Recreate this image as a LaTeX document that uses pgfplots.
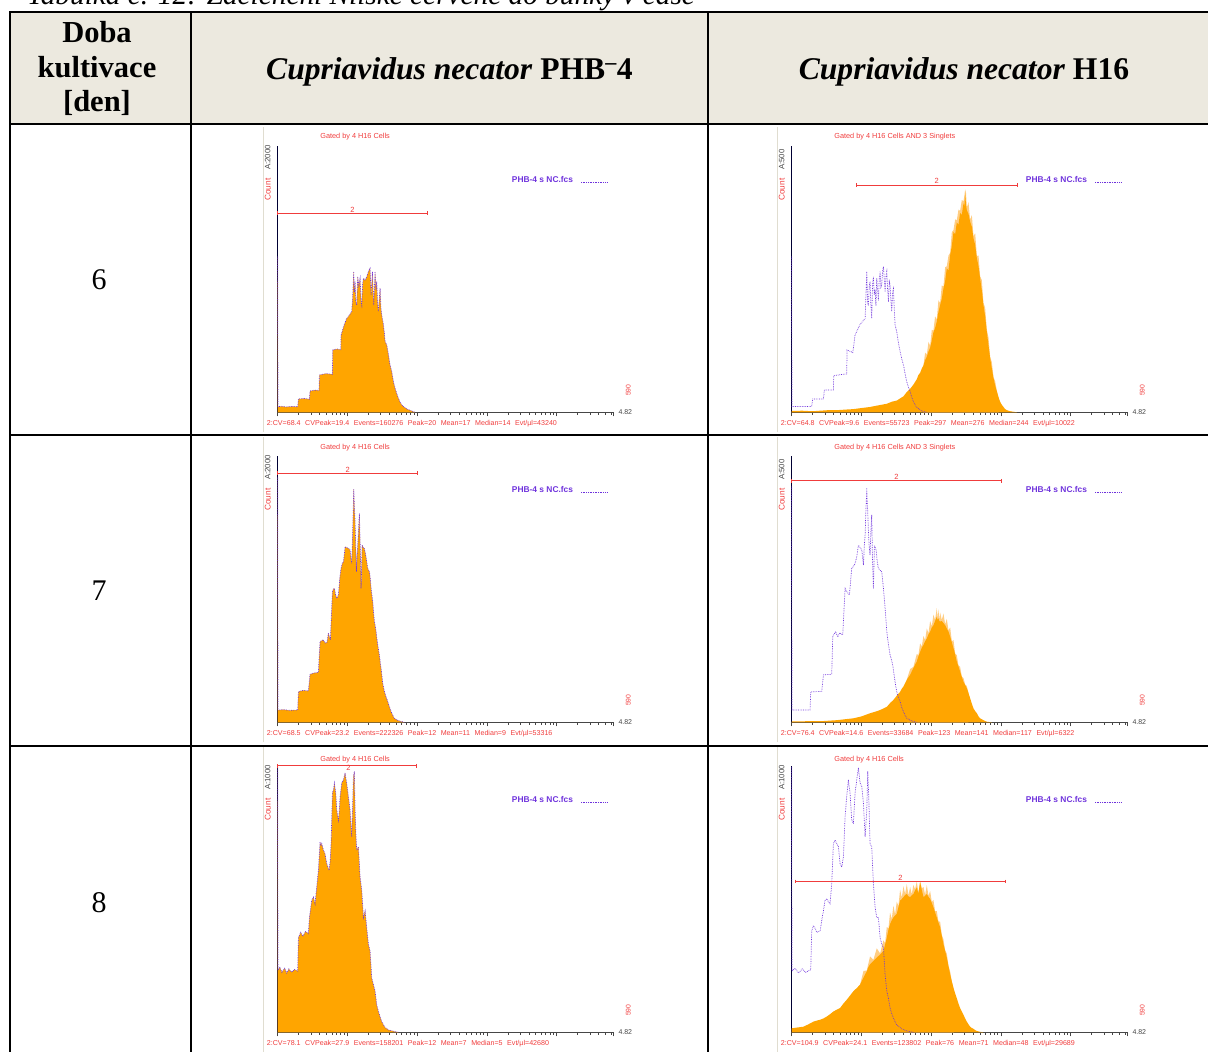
\documentclass[border=0pt]{standalone}
\usepackage{pgfplots}
\pgfplotsset{compat=1.18}
\usepackage{pgfplotstable}
\usepackage{fontspec}
\setmainfont{Liberation Serif}
\newfontfamily\lab{Liberation Sans}
\newfontfamily\labr{Liberation Sans}

\definecolor{hdrbg}{RGB}{236,233,223}
\definecolor{histo}{RGB}{255,165,0}
\definecolor{histopale}{RGB}{255,205,130}
\definecolor{ovl}{RGB}{110,50,220}
\definecolor{fcsred}{RGB}{240,60,60}
\definecolor{fcsgray}{RGB}{70,70,70}
\definecolor{imgedge}{RGB}{224,221,208}

% ---------- histogram data: x in decades of the log channel axis, y in counts
% day 6, PHB-4 (sample and overlay coincide)
\pgfplotstableread{
d c
0 1168
0.004 42
0.06 45
0.12 40
0.2 44
0.287 42
0.297 100
0.38 104
0.455 98
0.464 160
0.53 166
0.593 165
0.598 280
0.69 290
0.785 285
0.79 468
0.85 475
0.905 470
0.909 580
0.95 650
0.990 705
1.014 718
1.062 755
1.075 860
1.091 1055
1.100 900
1.110 980
1.122 820
1.134 805
1.148 1018
1.165 950
1.182 1005
1.195 840
1.206 805
1.218 960
1.230 1005
1.255 990
1.278 1018
1.301 1055
1.325 1080
1.340 880
1.359 1055
1.370 900
1.378 805
1.397 1055
1.410 920
1.421 980
1.433 820
1.445 755
1.457 850
1.469 930
1.481 780
1.493 730
1.517 655
1.529 600
1.541 530
1.565 505
1.589 430
1.612 355
1.636 305
1.660 230
1.684 180
1.708 140
1.732 105
1.756 75
1.780 55
1.816 38
1.852 25
1.923 10
1.971 0
}\tabA

% day 6, PHB-4 overlay in the H16 panel
\pgfplotstableread{
d c
0 292
0.004 11
0.287 11
0.301 25
0.455 25
0.469 42
0.598 42
0.603 69
0.789 72
0.794 117
0.876 112
0.909 145
0.981 165
1.053 176
1.065 220
1.077 264
1.089 205
1.100 200
1.112 235
1.124 245
1.136 200
1.148 176
1.160 240
1.172 254
1.184 220
1.196 230
1.208 200
1.220 251
1.232 230
1.244 210
1.256 250
1.268 264
1.280 235
1.292 240
1.304 265
1.316 273
1.328 250
1.340 226
1.352 255
1.364 264
1.376 230
1.388 207
1.400 245
1.411 239
1.423 210
1.435 189
1.447 225
1.459 232
1.471 195
1.483 164
1.507 151
1.531 130
1.555 114
1.579 100
1.603 89
1.627 72
1.651 57
1.675 47
1.699 39
1.723 28
1.746 20
1.770 14
1.794 9
1.866 2.5
1.938 0
}\tabBp

% day 6, H16
\pgfplotstableread{
d c
0 2.5
0.15 3
0.3 2
0.407 3
0.52 4
0.646 4
0.76 5
0.885 6
1.0 8
1.124 10
1.24 13
1.364 16
1.44 20
1.507 22
1.555 26
1.603 30
1.651 38
1.699 44
1.746 52
1.794 62
1.818 70
1.842 74
1.866 82
1.890 88
1.914 98
1.938 104
1.962 114
1.986 121
2.010 135
2.033 150
2.057 158
2.081 170
2.105 188
2.129 201
2.153 213
2.177 232
2.201 246
2.225 270
2.249 266
2.273 295
2.297 312
2.321 338
2.345 334
2.368 356
2.392 352
2.416 374
2.440 370
2.464 392
2.476 385
2.488 411
2.500 390
2.512 379
2.536 372
2.560 357
2.584 348
2.608 326
2.632 314
2.656 289
2.680 274
2.703 251
2.727 229
2.751 201
2.775 180
2.799 151
2.823 126
2.847 101
2.871 82
2.895 64
2.919 50
2.943 39
2.967 28
2.990 20
3.014 14
3.038 10
3.062 6
3.086 4
3.134 2
3.182 1
3.230 0
}\tabBo

% day 6, H16: single-channel spikes above the main mass
\pgfplotstableread{
d c
1.890 88
1.914 112
1.938 108
1.962 132
1.986 125
2.010 155
2.033 153
2.057 180
2.081 174
2.105 210
2.129 205
2.153 238
2.177 236
2.201 272
2.225 274
2.249 294
2.273 299
2.297 338
2.321 342
2.345 362
2.368 360
2.392 380
2.416 378
2.440 398
2.464 396
2.476 405
2.488 418
2.500 412
2.512 384
2.536 394
2.560 361
2.584 370
2.608 330
2.632 336
2.656 293
2.680 294
2.703 255
2.727 248
2.751 205
2.775 196
2.799 155
2.823 140
2.847 104
2.871 94
2.895 66
2.919 58
2.943 40
2.967 28
}\tabBs

% day 7, PHB-4
\pgfplotstableread{
d c
0 1842
0.004 92
0.08 95
0.16 90
0.287 92
0.297 230
0.37 240
0.440 235
0.464 360
0.52 370
0.584 375
0.598 520
0.608 605
0.65 620
0.68 595
0.708 600
0.727 670
0.742 640
0.756 620
0.770 800
0.785 980
0.799 1000
0.813 1005
0.830 960
0.847 930
0.871 955
0.890 1080
0.909 1155
0.926 1190
0.943 1205
0.955 1260
0.967 1318
0.990 1310
1.014 1305
1.038 1293
1.050 1240
1.062 1193
1.077 1455
1.091 1750
1.100 1620
1.110 1505
1.120 1300
1.129 1130
1.138 1250
1.148 1330
1.160 1450
1.172 1568
1.180 1400
1.187 1255
1.196 1005
1.203 1150
1.211 1330
1.228 1310
1.244 1305
1.268 1240
1.292 1155
1.316 1130
1.328 1080
1.340 1005
1.352 950
1.364 905
1.376 820
1.388 755
1.400 720
1.411 680
1.423 630
1.435 580
1.447 540
1.459 505
1.471 450
1.483 405
1.495 350
1.507 293
1.519 260
1.531 230
1.555 190
1.579 155
1.603 115
1.627 80
1.651 52
1.675 30
1.710 18
1.746 10
1.818 0
}\tabC

% day 7, PHB-4 overlay in the H16 panel
\pgfplotstableread{
d c
0 442
0.004 23
0.263 23
0.273 57
0.431 58
0.455 89
0.574 90
0.589 161
0.630 170
0.660 160
0.690 168
0.718 165
0.732 164
0.766 251
0.789 245
0.828 239
0.861 289
0.885 292
0.909 298
0.933 310
0.957 332
0.981 328
1.005 323
1.029 295
1.041 330
1.053 351
1.065 400
1.077 439
1.084 410
1.091 395
1.100 360
1.110 332
1.124 314
1.136 360
1.148 389
1.160 300
1.172 251
1.187 332
1.211 323
1.228 300
1.244 289
1.268 285
1.292 282
1.316 251
1.340 214
1.364 170
1.388 145
1.411 126
1.430 118
1.450 107
1.483 76
1.507 57
1.531 47
1.555 39
1.579 28
1.603 20
1.627 13
1.651 7.5
1.722 2.5
1.794 0
}\tabDp

% day 7, H16
\pgfplotstableread{
d c
0 1.5
0.2 2
0.407 2
0.646 4
0.885 7.5
1.0 11
1.124 17
1.2 20
1.268 23
1.316 26
1.364 29
1.411 36
1.459 42
1.507 50
1.555 57
1.579 63
1.603 67
1.651 80
1.699 89
1.746 102
1.794 114
1.818 124
1.842 132
1.866 140
1.890 145
1.914 152
1.938 157
1.962 165
1.986 170
2.010 178
2.033 182
2.057 190
2.081 198
2.093 192
2.105 195
2.117 190
2.129 189
2.153 190
2.177 186
2.201 182
2.225 176
2.249 170
2.273 161
2.297 150
2.321 139
2.345 127
2.368 114
2.392 105
2.416 95
2.440 85
2.464 76
2.488 70
2.512 64
2.536 55
2.560 45
2.584 35
2.608 26
2.632 21
2.656 17
2.680 11
2.703 7.5
2.751 4
2.799 1
2.871 0
}\tabDo

% day 7, H16: single-channel spikes above the main mass
\pgfplotstableread{
d c
1.651 80
1.699 100
1.746 104
1.794 128
1.818 126
1.842 148
1.866 142
1.890 162
1.914 154
1.938 176
1.962 167
1.986 190
2.010 180
2.033 202
2.057 192
2.081 214
2.093 196
2.105 212
2.117 192
2.129 206
2.153 192
2.177 204
2.201 184
2.225 194
2.249 172
2.273 178
2.297 152
2.321 154
2.345 129
2.368 126
2.392 107
2.416 104
2.440 86
2.464 83
2.488 71
2.512 68
2.536 55
}\tabDs

% day 8, PHB-4
\pgfplotstableread{
d c
0 995
0.004 232
0.03 245
0.06 225
0.100 240
0.13 222
0.16 238
0.200 225
0.24 236
0.287 230
0.297 355
0.33 375
0.36 360
0.40 378
0.440 370
0.455 431
0.488 494
0.512 507
0.536 482
0.560 545
0.584 608
0.608 714
0.620 700
0.632 708
0.656 683
0.679 670
0.703 633
0.720 620
0.737 607
0.752 640
0.766 708
0.785 897
0.800 910
0.813 935
0.833 897
0.847 834
0.871 796
0.883 830
0.895 884
0.919 935
0.943 947
0.955 960
0.967 973
0.980 950
0.990 935
1.014 884
1.038 834
1.062 733
1.075 850
1.086 960
1.100 979
1.110 834
1.122 740
1.134 683
1.158 696
1.182 582
1.206 532
1.218 480
1.230 431
1.254 456
1.278 390
1.301 330
1.325 305
1.349 204
1.373 179
1.397 154
1.421 103
1.445 78
1.469 58
1.493 40
1.517 28
1.541 18
1.589 9
1.684 2.5
1.732 0
}\tabE

% day 8, PHB-4 overlay in the H16 panel
\pgfplotstableread{
d c
0 995
0.004 230
0.05 240
0.10 222
0.15 238
0.20 225
0.273 235
0.287 380
0.311 400
0.335 390
0.359 375
0.407 380
0.431 420
0.455 456
0.478 494
0.502 501
0.526 490
0.550 482
0.574 557
0.598 708
0.622 721
0.646 708
0.670 696
0.694 633
0.718 620
0.742 658
0.766 809
0.789 885
0.813 947
0.837 897
0.861 796
0.885 783
0.909 897
0.933 947
0.957 992
0.981 935
1.005 922
1.029 859
1.053 733
1.077 834
1.091 979
1.105 884
1.124 708
1.148 696
1.172 557
1.196 469
1.220 431
1.244 431
1.268 355
1.292 330
1.316 318
1.340 217
1.364 154
1.388 128
1.411 91
1.435 70
1.459 53
1.483 40
1.507 28
1.543 20
1.579 13
1.651 5
1.746 0
}\tabFp

% day 8, H16
\pgfplotstableread{
d c
0 15
0.08 18
0.167 21
0.24 30
0.311 40
0.36 44
0.407 47
0.455 52
0.502 59
0.550 68
0.598 78
0.646 85
0.694 91
0.742 108
0.789 122
0.837 138
0.885 154
0.933 166
0.981 179
1.029 205
1.077 229
1.100 245
1.124 255
1.172 268
1.220 280
1.268 292
1.316 305
1.340 330
1.364 355
1.388 385
1.411 406
1.435 420
1.459 431
1.483 438
1.507 444
1.531 470
1.555 494
1.579 500
1.603 507
1.627 515
1.651 519
1.675 510
1.699 507
1.722 514
1.746 519
1.770 532
1.794 544
1.818 520
1.842 563
1.866 535
1.890 507
1.914 512
1.938 519
1.962 508
1.986 500
2.010 485
2.033 469
2.057 450
2.081 431
2.105 412
2.129 394
2.153 362
2.177 330
2.201 305
2.225 280
2.249 248
2.273 217
2.297 190
2.321 166
2.345 146
2.368 128
2.392 108
2.416 91
2.440 78
2.464 66
2.488 52
2.512 40
2.536 30
2.560 21
2.584 16
2.608 13
2.632 8
2.656 5
2.700 2
2.751 0
}\tabFo

% day 8, H16: single-channel spikes above the main mass
\pgfplotstableread{
d c
0.981 179
1.029 230
1.077 232
1.124 285
1.172 272
1.220 315
1.268 296
1.316 345
1.340 334
1.364 395
1.388 390
1.411 450
1.435 424
1.459 475
1.483 442
1.507 490
1.531 474
1.555 535
1.579 505
1.603 548
1.627 519
1.651 556
1.675 514
1.699 545
1.722 518
1.746 553
1.770 536
1.794 566
1.818 524
1.842 568
1.866 540
1.890 545
1.914 516
1.938 552
1.962 512
1.986 530
2.010 489
2.033 497
2.057 454
2.081 455
2.105 416
2.129 415
2.153 366
2.177 348
2.201 308
2.225 295
2.249 250
2.273 228
2.297 192
2.321 166
}\tabFs

% ---------- styles
\pgfplotsset{
  fcs/.style={
    scale only axis, width=336pt, height=266.6pt,
    anchor=south west,
    xmin=0, xmax=4.82, ymin=0,
    axis x line*=bottom, axis y line*=left,
    x axis line style={draw=fcsgray, line width=0.6pt},
    y axis line style={draw=black!80!blue, line width=1.5pt},
    xtick={0,1,2,3,4,4.82},
    minor xtick={0.301,0.477,0.602,0.699,0.778,0.845,0.903,0.954,
                 1.301,1.477,1.602,1.699,1.778,1.845,1.903,1.954,
                 2.301,2.477,2.602,2.699,2.778,2.845,2.903,2.954,
                 3.301,3.477,3.602,3.699,3.778,3.845,3.903,3.954,
                 4.301,4.477,4.602,4.699,4.778},
    xticklabels={}, ytick=\empty,
    tick align=outside, major tick length=4pt, minor tick length=2.5pt,
    tick style={draw=fcsgray, line width=0.5pt},
    clip=false,
  },
  fillh/.style={fill=histo, draw=none},
  fillspk/.style={fill=histopale, draw=none},
  overlay/.style={ovl, densely dotted, line width=0.7pt},
  gateline/.style={color=fcsred, line width=1.2pt, mark=|, mark size=1.9pt,
               mark options={solid, draw=fcsred, line width=0.9pt}},
}
\tikzset{gatelbl/.style={text=fcsred, font=\lab\fontsize{7.5}{8}\selectfont,
                         anchor=south, inner sep=1pt}}

\newcommand{\sep}{\hspace{4.6pt}}
% panel annotations; #1,#2 = axis origin (x right, y down), #3 gate title,
% #4 its height above the baseline, #5 scale label, #6 statistics line
\newcommand{\fcsdeco}[6]{%
  \begin{scope}[shift={(#1pt,-#2pt)}]
    \draw[imgedge, line width=0.8pt] (-14.7pt,-20pt) -- (-14.7pt,285pt);
    \node[anchor=west, inner sep=0, text=fcsred,
          font=\lab\fontsize{7.3}{8}\selectfont] at (42.5pt,#4pt) {#3};
    \node[rotate=90, anchor=west, inner sep=0, text=fcsred,
          font=\labr\fontsize{8.3}{9}\selectfont] at (-10pt,211.3pt) {Count};
    \node[rotate=90, anchor=west, inner sep=0, text=fcsgray,
          font=\labr\fontsize{7.8}{9}\selectfont] at (-10pt,242.3pt) {#5};
    \node[anchor=west, inner sep=0, text=ovl,
          font=\lab\bfseries\fontsize{8.4}{9}\selectfont] at (234pt,233pt) {PHB-4 s NC.fcs};
    \draw[ovl, densely dotted, line width=0.7pt] (303.3pt,229.6pt) -- (330pt,229.6pt);
    \node[rotate=90, inner sep=0, text=fcsred,
          font=\labr\fontsize{6.8}{7}\selectfont] at (350.6pt,22pt) {590};
    \node[anchor=west, inner sep=0, text=fcsgray,
          font=\lab\fontsize{7}{8}\selectfont] at (340.6pt,0pt) {4.82};
    \node[anchor=west, inner sep=0, text=fcsred,
          font=\lab\fontsize{7.1}{8}\selectfont] at (-11pt,-11.7pt) {#6};
  \end{scope}}

\begin{document}
\begin{tikzpicture}
\useasboundingbox (0pt,0pt) rectangle (1208pt,-1052pt);
\clip (0pt,0pt) rectangle (1208pt,-1052pt);

% caption
\node[anchor=base west, inner sep=0, font=\itshape\fontsize{29.3}{33}\selectfont]
  at (27pt,-4.5pt) {Tabulka č. 12: Začlenění Nilské červené do buňky v čase};

% table frame
\fill[hdrbg] (9.5pt,-12.3pt) rectangle (1230pt,-123.5pt);
\begin{scope}[line width=2pt]
  \draw (9.5pt,-12.3pt) -- (1230pt,-12.3pt);
  \draw (9.5pt,-123.5pt) -- (1230pt,-123.5pt);
  \draw (9.5pt,-434.5pt) -- (1230pt,-434.5pt);
  \draw (9.5pt,-746pt) -- (1230pt,-746pt);
  \draw (9.5pt,-11.3pt) -- (9.5pt,-1070pt);
  \draw (191pt,-11.3pt) -- (191pt,-1070pt);
  \draw (707.7pt,-11.3pt) -- (707.7pt,-1070pt);
\end{scope}

% header
\node[anchor=base, inner sep=0, font=\bfseries\fontsize{30.5}{35}\selectfont] at (97pt,-42pt) {Doba};
\node[anchor=base, inner sep=0, font=\bfseries\fontsize{30.5}{35}\selectfont] at (97pt,-77pt) {kultivace};
\node[anchor=base, inner sep=0, font=\bfseries\fontsize{30.5}{35}\selectfont] at (97pt,-111pt) {[den]};
\node[anchor=base, inner sep=0, font=\fontsize{31.6}{35}\selectfont] at (449.4pt,-79pt)
  {\textbf{\textit{Cupriavidus necator}} \textbf{PHB\textsuperscript{–}4}};
\node[anchor=base, inner sep=0, font=\fontsize{31.6}{35}\selectfont] at (964pt,-79pt)
  {\textbf{\textit{Cupriavidus necator}} \textbf{H16}};

% day column
\node[font=\fontsize{30}{34}\selectfont] at (99pt,-280pt) {6};
\node[font=\fontsize{30}{34}\selectfont] at (99pt,-591pt) {7};
\node[font=\fontsize{30}{34}\selectfont] at (99pt,-903pt) {8};

% ---------- day 6
\fcsdeco{277.7}{412.3}{Gated by 4 H16 Cells}{275.6}{A:2000}
  {2:CV=68.4\sep CVPeak=19.4\sep Events=160276\sep Peak=20\sep Mean=17\sep Median=14\sep Evt/µl=43240}
\begin{axis}[fcs, at={(277.7pt,-412.3pt)}, ymax=2000]
  \addplot[fillh] table[x=d,y=c]{\tabA} \closedcycle;
  \addplot[overlay] table[x=d,y=c]{\tabA};
  \addplot[gateline] coordinates {(0,1493) (2.148,1493)};
  \node[gatelbl] at (axis cs:1.074,1493) {2};
\end{axis}

\fcsdeco{791.7}{412.3}{Gated by 4 H16 Cells AND 3 Singlets}{275.6}{A:500}
  {2:CV=64.8\sep CVPeak=9.6\sep Events=55723\sep Peak=297\sep Mean=276\sep Median=244\sep Evt/µl=10022}
\begin{axis}[fcs, at={(791.7pt,-412.3pt)}, ymax=500]
  \addplot[fillspk] table[x=d,y=c]{\tabBs} \closedcycle;
  \addplot[fillh] table[x=d,y=c]{\tabBo} \closedcycle;
  \addplot[overlay] table[x=d,y=c]{\tabBp};
  \addplot[gateline] coordinates {(0.923,426) (3.239,426)};
  \node[gatelbl] at (axis cs:2.081,426) {2};
\end{axis}

% ---------- day 7
\fcsdeco{277.7}{722.3}{Gated by 4 H16 Cells}{275}{A:2000}
  {2:CV=68.5\sep CVPeak=23.2\sep Events=222326\sep Peak=12\sep Mean=11\sep Median=9\sep Evt/µl=53316}
\begin{axis}[fcs, at={(277.7pt,-722.3pt)}, ymax=2000]
  \addplot[fillh] table[x=d,y=c]{\tabC} \closedcycle;
  \addplot[overlay] table[x=d,y=c]{\tabC};
  \addplot[gateline] coordinates {(0,1868) (2.010,1868)};
  \node[gatelbl] at (axis cs:1.005,1868) {2};
\end{axis}

\fcsdeco{791.7}{722.3}{Gated by 4 H16 Cells AND 3 Singlets}{275}{A:500}
  {2:CV=76.4\sep CVPeak=14.6\sep Events=33684\sep Peak=123\sep Mean=141\sep Median=117\sep Evt/µl=6322}
\begin{axis}[fcs, at={(791.7pt,-722.3pt)}, ymax=500]
  \addplot[fillspk] table[x=d,y=c]{\tabDs} \closedcycle;
  \addplot[fillh] table[x=d,y=c]{\tabDo} \closedcycle;
  \addplot[overlay] table[x=d,y=c]{\tabDp};
  \addplot[gateline] coordinates {(0,453) (3.005,453)};
  \node[gatelbl] at (axis cs:1.503,453) {2};
\end{axis}

% ---------- day 8
\fcsdeco{277.7}{1032.3}{Gated by 4 H16 Cells}{272.3}{A:1000}
  {2:CV=78.1\sep CVPeak=27.9\sep Events=158201\sep Peak=12\sep Mean=7\sep Median=5\sep Evt/µl=42680}
\begin{axis}[fcs, at={(277.7pt,-1032.3pt)}, ymax=1000]
  \addplot[fillh] table[x=d,y=c]{\tabE} \closedcycle;
  \addplot[overlay] table[x=d,y=c]{\tabE};
  \addplot[gateline] coordinates {(0,1000) (1.995,1000)};
  \node[gatelbl, anchor=center, yshift=-2.5pt] at (axis cs:1.014,1000) {2};
\end{axis}

\fcsdeco{791.7}{1032.3}{Gated by 4 H16 Cells}{273}{A:1000}
  {2:CV=104.9\sep CVPeak=24.1\sep Events=123802\sep Peak=76\sep Mean=71\sep Median=48\sep Evt/µl=29689}
\begin{axis}[fcs, at={(791.7pt,-1032.3pt)}, ymax=1000]
  \addplot[fillspk] table[x=d,y=c]{\tabFs} \closedcycle;
  \addplot[fillh] table[x=d,y=c]{\tabFo} \closedcycle;
  \addplot[overlay] table[x=d,y=c]{\tabFp};
  \addplot[gateline] coordinates {(0.048,566) (3.072,566)};
  \node[gatelbl] at (axis cs:1.56,566) {2};
\end{axis}
\end{tikzpicture}
\end{document}
